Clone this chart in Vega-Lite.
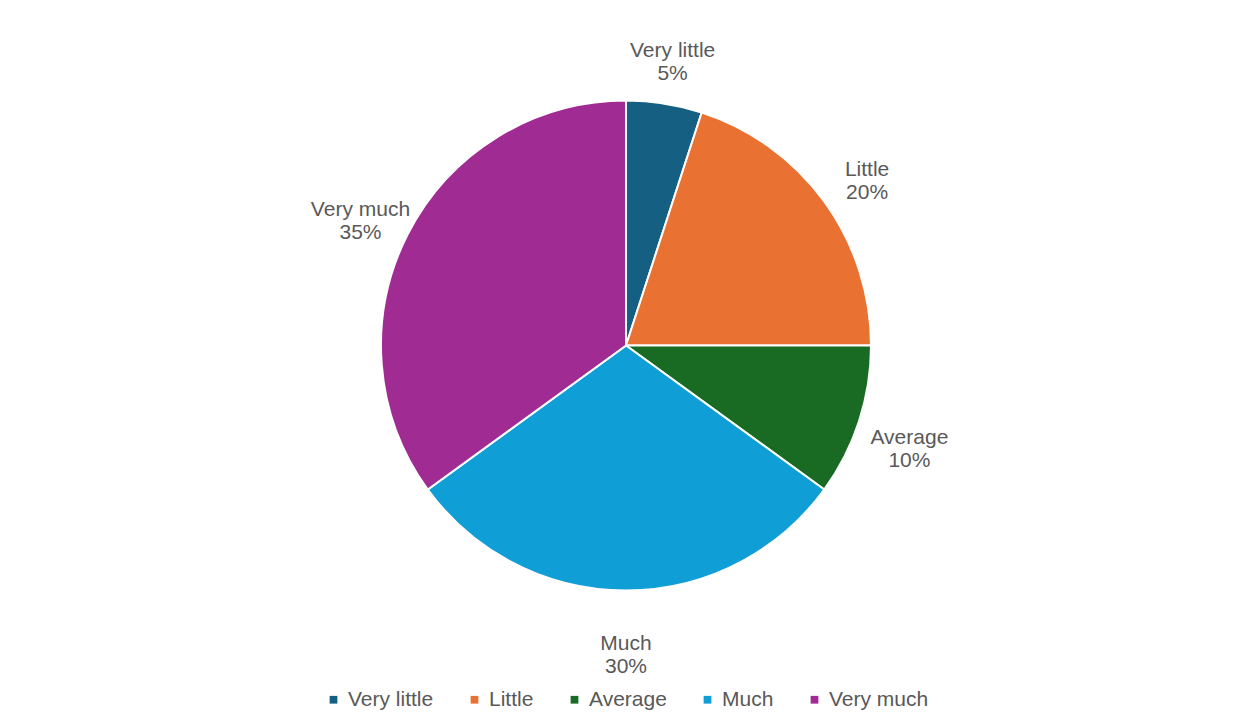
{
  "$schema": "https://vega.github.io/schema/vega-lite/v6.json",
  "width": 1252,
  "height": 724,
  "autosize": {"type": "fit", "contains": "padding"},
  "padding": {"top": 20, "bottom": 14, "left": 10, "right": 10},
  "background": "white",
  "config": {
    "view": {"stroke": null},
    "font": "Liberation Sans",
    "legend": {"layout": {"bottom": {"anchor": "middle"}}}
  },
  "data": {
    "values": [
      {"idx": 1, "category": "Very little", "pct": 5, "label": "Very little|5%"},
      {"idx": 2, "category": "Little", "pct": 20, "label": "Little|20%"},
      {"idx": 3, "category": "Average", "pct": 10, "label": "Average|10%"},
      {"idx": 4, "category": "Much", "pct": 30, "label": "Much|30%"},
      {"idx": 5, "category": "Very much", "pct": 35, "label": "Very much|35%"}
    ]
  },
  "encoding": {
    "theta": {"field": "pct", "type": "quantitative", "stack": true},
    "order": {"field": "idx", "type": "quantitative"},
    "color": {
      "field": "category",
      "type": "nominal",
      "scale": {
        "domain": ["Very little", "Little", "Average", "Much", "Very much"],
        "range": ["#156082", "#E97132", "#196B24", "#0F9ED5", "#A02B93"]
      },
      "legend": {
        "orient": "bottom",
        "direction": "horizontal",
        "title": null,
        "symbolType": "square",
        "symbolSize": 60,
        "labelFontSize": 21,
        "labelColor": "#595959",
        "columnPadding": 30,
        "symbolStrokeWidth": 0
      }
    }
  },
  "layer": [
    {
      "mark": {"type": "arc", "outerRadius": 245, "stroke": "white", "strokeWidth": 2}
    },
    {
      "mark": {"type": "text", "radius": 298, "fontSize": 21, "color": "#595959", "lineBreak": "|", "align": "center", "baseline": "middle"},
      "encoding": {
        "text": {"field": "label", "type": "nominal"},
        "color": {"value": "#595959"}
      }
    }
  ]
}
